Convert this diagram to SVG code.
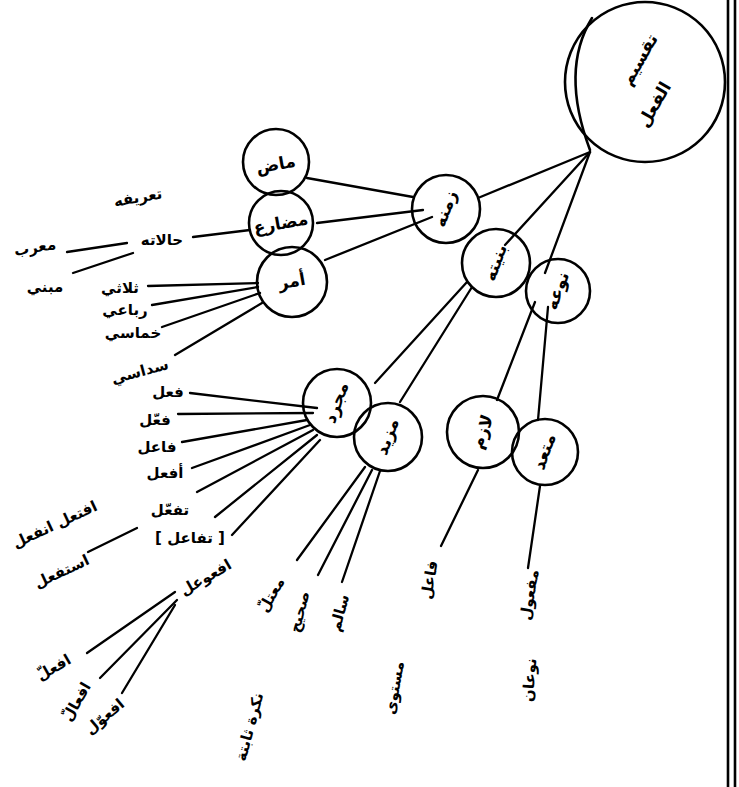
<svg xmlns="http://www.w3.org/2000/svg" width="739" height="787" viewBox="0 0 739 787">
<style>
.n{fill:none;stroke:#000;stroke-width:2.6;stroke-linecap:round}
.c line,.c path{fill:none;stroke:#000;stroke-width:2.3;stroke-linecap:round}
text{font-family:"DejaVu Sans","Noto Sans",sans-serif;font-size:17px;font-weight:bold;fill:#000;text-anchor:middle;dominant-baseline:middle}
.s{font-size:15px}
</style>
<rect width="739" height="787" fill="#fff"/>
<g id="border"><line x1="728" y1="0" x2="728" y2="787" class="n"/><line x1="735" y1="0" x2="735" y2="787" class="n"/></g>
<g class="c" id="connectors">
<line x1="590" y1="152" x2="478" y2="198"/>
<line x1="590" y1="152" x2="505" y2="245"/>
<line x1="590" y1="152" x2="545" y2="273"/>
<line x1="307" y1="178" x2="413" y2="197"/>
<line x1="317" y1="223" x2="423" y2="210"/>
<line x1="325" y1="260" x2="432" y2="217"/>
<line x1="467" y1="282" x2="375" y2="383"/>
<line x1="472" y1="287" x2="400" y2="402"/>
<line x1="535" y1="302" x2="497" y2="400"/>
<line x1="548" y1="307" x2="538" y2="420"/>
<line x1="193" y1="237" x2="250" y2="230"/>
<line x1="67" y1="252" x2="127" y2="243"/>
<line x1="73" y1="273" x2="133" y2="253"/>
<line x1="148" y1="286" x2="258" y2="283"/>
<line x1="152" y1="305" x2="258" y2="287"/>
<line x1="162" y1="327" x2="260" y2="293"/>
<line x1="175" y1="355" x2="262" y2="303"/>
<line x1="190" y1="393" x2="317" y2="408"/>
<line x1="178" y1="414" x2="313" y2="413"/>
<line x1="182" y1="442" x2="307" y2="420"/>
<line x1="192" y1="468" x2="310" y2="425"/>
<line x1="197" y1="492" x2="313" y2="430"/>
<line x1="215" y1="517" x2="317" y2="435"/>
<line x1="232" y1="535" x2="320" y2="440"/>
<line x1="88" y1="552" x2="137" y2="528"/>
<line x1="175" y1="592" x2="87" y2="653"/>
<line x1="177" y1="600" x2="100" y2="678"/>
<line x1="175" y1="605" x2="122" y2="693"/>
<line x1="365" y1="467" x2="297" y2="560"/>
<line x1="372" y1="470" x2="318" y2="575"/>
<line x1="380" y1="471" x2="342" y2="582"/>
<line x1="478" y1="470" x2="441" y2="546"/>
<line x1="540" y1="486" x2="528" y2="568"/>
</g>
<g id="root"><circle cx="645" cy="82" r="80" class="n"/><path d="M592 18 Q560 70 590 150" class="n"/>
<text transform="translate(640,60) rotate(-60)">تقسيم</text><text transform="translate(655,105) rotate(-60)">الفعل</text></g>
<g id="nA"><circle cx="446" cy="209" r="34" class="n"/><text transform="translate(446,209) rotate(-70)">زمنه</text></g>
<g id="nB"><circle cx="496" cy="263" r="34" class="n"/><text transform="translate(496,263) rotate(-70)">بنيته</text></g>
<g id="nC"><circle cx="558" cy="291" r="32" class="n"/><text transform="translate(558,291) rotate(-70)">نوعه</text></g>
<g id="nD1"><circle cx="276" cy="162" r="33" class="n"/><text transform="translate(276,165) rotate(-10)">ماض</text></g>
<g id="nD2"><circle cx="281" cy="223" r="32" class="n"/><text transform="translate(281,224) rotate(-10)">مضارع</text></g>
<g id="nD3"><circle cx="292" cy="282" r="35" class="n"/><text transform="translate(292,282) rotate(-10)">أمر</text></g>
<g id="nE"><circle cx="337" cy="403" r="34" class="n"/><text transform="translate(337,403) rotate(-70)">مجرد</text></g>
<g id="nF"><circle cx="388" cy="437" r="34" class="n"/><text transform="translate(388,437) rotate(-70)">مزيد</text></g>
<g id="nG"><circle cx="483" cy="432" r="36" class="n"/><text transform="translate(483,432) rotate(-70)">لازم</text></g>
<g id="nH"><circle cx="545" cy="452" r="33" class="n"/><text transform="translate(545,452) rotate(-70)">متعد</text></g>
<g id="labels" class="s">
<text x="138" y="198" class="s" transform="rotate(-10 138 198)">تعريفه</text>
<text x="162" y="240" class="s">حالاته</text>
<text x="35" y="248" class="s" transform="rotate(-10 35 248)">معرب</text>
<text x="45" y="287" class="s">مبني</text>
<text x="120" y="288" class="s">ثلاثي</text>
<text x="125" y="310" class="s">رباعي</text>
<text x="133" y="333" class="s">خماسي</text>
<text x="140" y="372" class="s" transform="rotate(-15 140 372)">سداسي</text>
<text x="168" y="392" class="s">فعل</text>
<text x="155" y="420" class="s">فعّل</text>
<text x="157" y="447" class="s">فاعل</text>
<text x="165" y="473" class="s">أفعل</text>
<text x="170" y="510" class="s">تفعّل</text>
<text x="190" y="538" class="s">[ تفاعل ]</text>
<text x="55" y="525" class="s" transform="rotate(-25 55 525)">افتعل انفعل</text>
<text x="62" y="572" class="s" transform="rotate(-25 62 572)">استفعل</text>
<text x="206" y="578" class="s" transform="rotate(-30 206 578)">افعوعل</text>
<text x="54" y="668" class="s" transform="rotate(-30 54 668)">افعلّ</text>
<text x="77" y="702" class="s" transform="rotate(-60 77 702)">افعالّ</text>
<text x="105" y="717" class="s" transform="rotate(-40 105 717)">افعوّل</text>
<text x="272" y="595" class="s" transform="rotate(-60 272 595)">معتلّ</text>
<text x="300" y="612" class="s" transform="rotate(-75 300 612)">صحيح</text>
<text x="340" y="613" class="s" transform="rotate(-75 340 613)">سالم</text>
<text x="430" y="580" class="s" transform="rotate(-80 430 580)">فاعل</text>
<text x="530" y="595" class="s" transform="rotate(-80 530 595)">مفعول</text>
<text x="250" y="727" class="s" transform="rotate(-75 250 727)">نكرة ثابتة</text>
<text x="395" y="688" class="s" transform="rotate(-80 395 688)">مستوى</text>
<text x="530" y="680" class="s" transform="rotate(-85 530 680)">نوعان</text>
</g>
</svg>
